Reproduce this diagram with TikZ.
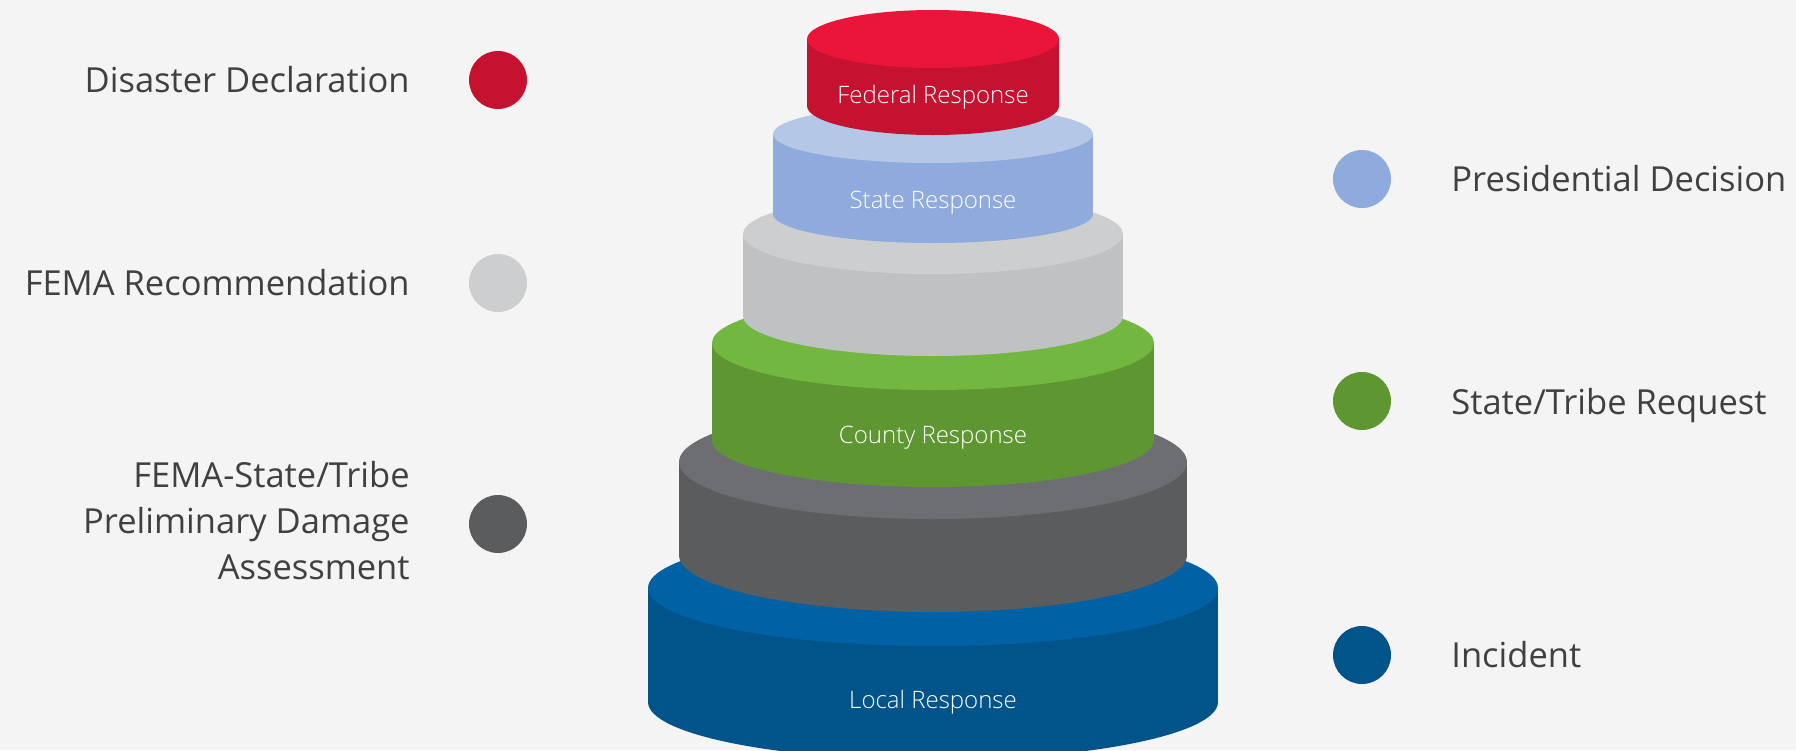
\documentclass[tikz,border=0pt]{standalone}
\usepackage{fontspec}
\setmainfont{Open Sans}
\newfontfamily\lightfont{Open Sans Light}
\usetikzlibrary{positioning}

\definecolor{bgpaper}{HTML}{F4F4F4}
\definecolor{labelgray}{HTML}{404040}
\definecolor{topred}{HTML}{EA1538}
\definecolor{sidered}{HTML}{C41230}
\definecolor{topsky}{HTML}{B4C7E7}
\definecolor{sidesky}{HTML}{8FAADC}
\definecolor{topsilver}{HTML}{CDCECF}
\definecolor{sidesilver}{HTML}{C0C1C3}
\definecolor{topgreen}{HTML}{72B840}
\definecolor{sidegreen}{HTML}{5E9732}
\definecolor{topslate}{HTML}{6D6E71}
\definecolor{sideslate}{HTML}{5B5C5E}
\definecolor{topnavy}{HTML}{0061A4}
\definecolor{sidenavy}{HTML}{00548A}

\tikzset{
  milestone/.style={circle, minimum size=58pt, inner sep=0pt},
  steplabel/.style={font=\fontsize{34.5}{46}\selectfont, text=labelgray, inner sep=0pt},
  layerlabel/.style={font=\lightfont\fontsize{24}{28}\selectfont, text=white, inner sep=0pt, anchor=base},
}

\begin{document}
\begin{tikzpicture}[x=1pt, y=-1pt]
    \useasboundingbox (0,0) rectangle (1796,750);
    \fill[bgpaper] (0,0) rectangle (1796,750);
    \clip (0,0) rectangle (1796,750);

    % Stacked layers, base first
    \foreach \lay/\rx/\ry/\yt/\yb/\ly/\col/\txt in {
        local/285/58/588/702/708/navy/Local Response,
        tier/254/57/462/555/0/slate/,
        county/221/47/343/440/443/green/County Response,
        gap/190/40/234/316/0/silver/,
        state/160/29/134/214/208/sky/State Response,
        federal/126/29/39/106/103/red/Federal Response} {
        \fill[side\col] (933-\rx,\yt) rectangle (933+\rx,\yb);
        \fill[side\col] (933,\yb) ellipse [x radius=\rx pt, y radius=\ry pt];
        \fill[top\col] (933,\yt) ellipse [x radius=\rx pt, y radius=\ry pt];
        \node[layerlabel] (\lay) at (933,\ly) {\txt};
    }

    % Milestones on the left
    \node[milestone, fill=sidered] (decl) at (498,80) {};
    \node[milestone, fill=topsilver] (recommend) at (498,283) {};
    \node[milestone, fill=sideslate] (pda) at (498,524) {};
    \node[steplabel, left=59pt of decl] (decl-text) {Disaster Declaration};
    \node[steplabel, left=59pt of recommend] (recommend-text) {FEMA Recommendation};
    \node[steplabel, align=right, left=59pt of pda, yshift=3pt] (pda-text)
        {FEMA-State/Tribe\\Preliminary Damage\\Assessment};

    % Milestones on the right
    \node[milestone, fill=sidesky] (decision) at (1362,179) {};
    \node[milestone, fill=sidegreen] (request) at (1362,401) {};
    \node[milestone, fill=sidenavy] (incident) at (1362,655) {};
    \node[steplabel, right=60pt of decision] (decision-text) {Presidential Decision};
    \node[steplabel, text depth=0pt, right=60pt of request] (request-text) {State/Tribe Request};
    \node[steplabel, right=60pt of incident] (incident-text) {Incident};

\end{tikzpicture}
\end{document}
